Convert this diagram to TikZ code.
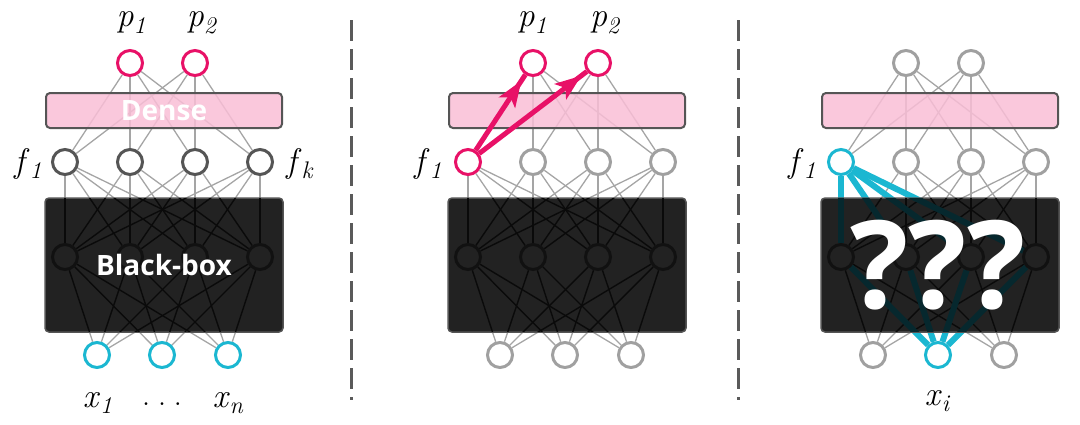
\documentclass[tikz,border=0pt]{standalone}
\usepackage{fontspec}
\setsansfont{Open Sans}
\usetikzlibrary{arrows.meta,decorations.markings}
\definecolor{mag}{RGB}{232,17,103}
\definecolor{cyn}{RGB}{27,183,209}
\definecolor{ngray}{RGB}{160,160,160}
\definecolor{fdark}{RGB}{85,85,85}
\definecolor{egray}{RGB}{165,165,165}
\definecolor{pinkf}{RGB}{249,190,214}
\definecolor{bord}{RGB}{85,85,85}
\definecolor{boxf}{RGB}{34,34,34}
\definecolor{hblk}{RGB}{17,17,17}
\definecolor{inblk}{RGB}{10,10,10}
\definecolor{dteal}{RGB}{6,40,46}
\definecolor{divgray}{RGB}{90,90,90}
\newcommand\lsub[2]{\textit{#1}\raisebox{-0.2em}{\fontsize{24}{24}\selectfont\textit{#2}}}
\pgfdeclarelayer{edges}\pgfdeclarelayer{dense}\pgfdeclarelayer{bbox}\pgfdeclarelayer{inner}\pgfdeclarelayer{top}
\pgfsetlayers{edges,dense,bbox,inner,main,top}
\begin{document}
\begin{tikzpicture}[x=1pt,y=-1pt,
  neur/.style={circle,line width=3pt,minimum size=25pt,inner sep=0pt,fill=white},
  edge/.style={line width=1.3pt,draw=egray},
  inedge/.style={line width=1.4pt,draw=inblk},
  denseb/.style={draw=bord,line width=2pt,fill=pinkf,fill opacity=0.85,rounded corners=4pt,minimum width=236pt,minimum height=35pt,inner sep=0pt},
  blackb/.style={draw=bord,line width=1.5pt,fill=boxf,rounded corners=4pt,minimum width=238pt,minimum height=134pt,inner sep=0pt},
  lab/.style={font=\fontsize{34}{34}\selectfont,inner sep=0pt,anchor=base},
  boxtxt/.style={text=white,inner sep=0pt,font=\sffamily\bfseries\fontsize{28}{28}\selectfont},
  thickc/.style={line width=6pt,draw=cyn},
  thickt/.style={line width=6pt,draw=dteal},
  marrow/.style={line width=5pt,draw=mag,color=mag,postaction={decorate},
    decoration={markings,mark=at position -7pt with {\arrow{Stealth[length=26pt,width=19pt,inset=6pt]}}}},
  divl/.style={line width=3pt,draw=divgray,dash pattern=on 21pt off 8pt}
]
\useasboundingbox (0,0) rectangle (1080,424);

\foreach \P/\ox/\pc/\fc/\fo/\xo/\xm in {A/0/mag/fdark/fdark/cyn/cyn, B/403/mag/mag/ngray/ngray/ngray, C/776/ngray/cyn/ngray/ngray/cyn}{
  \node[neur,draw=\pc] (\P p1) at (\ox+130,63) {};
  \node[neur,draw=\pc] (\P p2) at (\ox+195,63) {};
  \node[neur,draw=\fc] (\P f1) at (\ox+65,162) {};
  \foreach \i/\xx in {2/130,3/195,4/260}
    \node[neur,draw=\fo] (\P f\i) at (\ox+\xx,162) {};
  \foreach \i/\xx in {1/65,2/130,3/195,4/260}
    \node[neur,draw=hblk,fill=boxf] (\P h\i) at (\ox+\xx,257) {};
  \node[neur,draw=\xo] (\P x1) at (\ox+97,355) {};
  \node[neur,draw=\xm] (\P x2) at (\ox+162,355) {};
  \node[neur,draw=\xo] (\P x3) at (\ox+228,355) {};
  \begin{pgfonlayer}{dense}
    \node[denseb] (\P dn) at (\ox+164,110.5) {};
  \end{pgfonlayer}
  \begin{pgfonlayer}{bbox}
    \node[blackb] (\P bb) at (\ox+164,265) {};
  \end{pgfonlayer}
  \begin{pgfonlayer}{edges}
    \foreach \a in {1,2}\foreach \b in {1,...,4} \draw[edge] (\P p\a) -- (\P f\b);
    \foreach \a in {1,...,4}\foreach \b in {1,...,4} \draw[edge] (\P f\a) -- (\P h\b);
    \foreach \a in {1,...,4}\foreach \b in {1,2,3} \draw[edge] (\P h\a) -- (\P x\b);
  \end{pgfonlayer}
  \begin{pgfonlayer}{inner}
    \begin{scope}
      \clip ([xshift=1pt,yshift=1pt]\P bb.south west) rectangle ([xshift=-1pt,yshift=-1pt]\P bb.north east);
      \foreach \a in {1,...,4}\foreach \b in {1,...,4} \draw[inedge] (\P f\a) -- (\P h\b);
      \foreach \a in {1,...,4}\foreach \b in {1,2,3} \draw[inedge] (\P h\a) -- (\P x\b);
    \end{scope}
  \end{pgfonlayer}
}

% panel 3: highlighted paths
\begin{pgfonlayer}{edges}
  \foreach \b in {1,...,4} {\draw[thickc] (Cf1) -- (Ch\b); \draw[thickc] (Cx2) -- (Ch\b);}
\end{pgfonlayer}
\begin{pgfonlayer}{inner}
  \begin{scope}
    \clip ([xshift=1pt,yshift=1pt]Cbb.south west) rectangle ([xshift=-1pt,yshift=-1pt]Cbb.north east);
    \foreach \b in {1,...,4} {\draw[thickt] (Cf1) -- (Ch\b); \draw[thickt] (Cx2) -- (Ch\b);}
  \end{scope}
\end{pgfonlayer}

% panel 2: arrows
\draw[marrow] (Bf1) -- (Bp1);
\draw[marrow] (Bf1) -- (Bp2);

% box texts
\begin{pgfonlayer}{top}
  \node[boxtxt] (Adt) at (164,111) {Dense};
  \node[boxtxt] (Abt) at (164,265) {Black-box};
  \node[boxtxt,font=\sffamily\bfseries\fontsize{122}{122}\selectfont] (Cq) at (938,265) {???};
\end{pgfonlayer}

% labels
\node[lab] (Alp1) at (131,26.5) {\lsub{p}{1}};
\node[lab] (Alp2) at (202,26.5) {\lsub{p}{2}};
\node[lab] (Alf1) at (28,172) {\lsub{f}{1}};
\node[lab] (Alfk) at (300,172) {\lsub{f}{k}};
\node[lab] (Alx1) at (97.5,407) {\lsub{x}{1}};
\node[lab] (Aldt) at (162,405) {.\hspace{0.22em}.\hspace{0.22em}.};
\node[lab] (Alxn) at (228,407) {\lsub{x}{n}};
\node[lab] (Blp1) at (532,26.5) {\lsub{p}{1}};
\node[lab] (Blp2) at (605,26.5) {\lsub{p}{2}};
\node[lab] (Blf1) at (428,172) {\lsub{f}{1}};
\node[lab] (Clf1) at (802,172) {\lsub{f}{1}};
\node[lab] (Clxi) at (937.5,405) {\lsub{x}{i}};

% dividers
\coordinate (d1t) at (351,20);
\coordinate (d1b) at (351,400);
\coordinate (d2t) at (738,20);
\coordinate (d2b) at (738,400);
\draw[divl] (d1t) -- (d1b);
\draw[divl] (d2t) -- (d2b);
\end{tikzpicture}
\end{document}
